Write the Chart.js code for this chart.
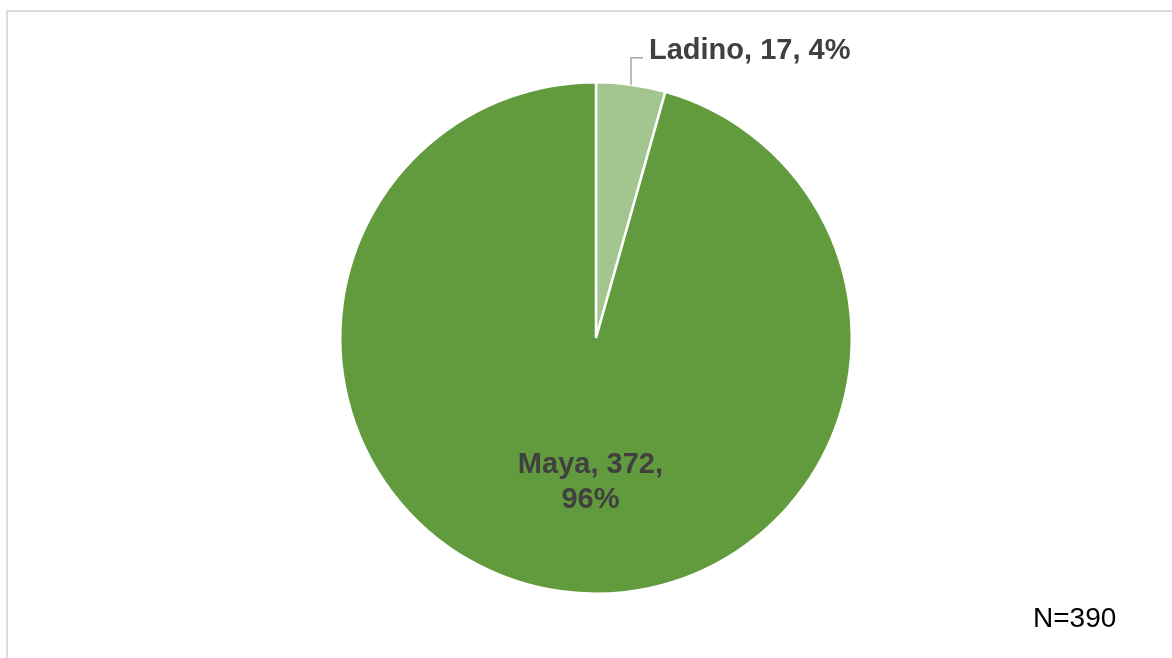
<!DOCTYPE html>
<html>
<head>
<meta charset="utf-8">
<script src="https://cdn.jsdelivr.net/npm/chart.js@4.4.0/dist/chart.umd.min.js"></script>
<style>
  html, body { margin: 0; padding: 0; background: #fff; overflow: hidden; }
  #marco {
    position: absolute; left: 6px; top: 10px; width: 1300px; height: 800px;
    border: 2px solid #dcdcdc; box-sizing: border-box;
  }
  #contenedor { position: absolute; left: 0; top: 0; width: 1172px; height: 658px; }
</style>
</head>
<body>
<div id="marco"></div>
<div id="contenedor"><canvas id="graficoEtnia" width="1172" height="658"></canvas></div>
<script>
// datos de la grafica
const categorias = ['Ladino', 'Maya'];
const cantidades = [17, 372];
const porcentajes = [4, 96];
const totalMuestra = 390;
const colores = ['#a3c690', '#629a3e'];

const colorTexto = '#404040';
const fuenteNegrita = 'bold 29px "Liberation Sans", Arial, sans-serif';

// etiquetas de cada sector y la nota N=
const etiquetasSectores = {
  id: 'etiquetasSectores',
  afterDatasetsDraw(chart) {
    const ctx = chart.ctx;
    const arcos = chart.getDatasetMeta(0).data;
    ctx.save();
    ctx.font = fuenteNegrita;
    ctx.fillStyle = colorTexto;
    ctx.textBaseline = 'alphabetic';

    // Ladino: fuera del pie, con linea guia
    const a0 = arcos[0];
    const medio0 = (a0.startAngle + a0.endAngle) / 2;
    const x0 = a0.x + Math.cos(medio0) * a0.outerRadius;
    const y0 = a0.y + Math.sin(medio0) * a0.outerRadius;
    ctx.strokeStyle = '#a6a6a6';
    ctx.lineWidth = 1.5;
    ctx.beginPath();
    ctx.moveTo(x0, y0);
    ctx.lineTo(x0, y0 - 27);
    ctx.lineTo(x0 + 12, y0 - 27);
    ctx.stroke();
    ctx.textAlign = 'left';
    ctx.fillText(categorias[0] + ', ' + cantidades[0] + ', ' + porcentajes[0] + '%', x0 + 18, y0 - 26);

    // Maya: dentro del sector, dos lineas
    const a1 = arcos[1];
    const medio1 = (a1.startAngle + a1.endAngle) / 2;
    const d = a1.outerRadius * 0.56;
    const x1 = a1.x + Math.cos(medio1) * d + 14;
    const y1 = a1.y + Math.sin(medio1) * d;
    ctx.textAlign = 'center';
    ctx.fillText(categorias[1] + ', ' + cantidades[1] + ',', x1, y1 - 7);
    ctx.fillText(porcentajes[1] + '%', x1, y1 + 28);

    // nota del total
    ctx.font = '28px "Liberation Sans", Arial, sans-serif';
    ctx.fillStyle = '#000';
    ctx.textAlign = 'left';
    ctx.fillText('N=' + totalMuestra, 1033, 627);
    ctx.restore();
  }
};

var ctx = document.getElementById('graficoEtnia').getContext('2d');
var grafico = new Chart(ctx, {
  type: 'pie',
  data: {
    labels: categorias,
    datasets: [{
      data: cantidades,
      backgroundColor: colores,
      borderColor: '#ffffff',
      borderWidth: 2.5
    }]
  },
  options: {
    responsive: false,
    animation: false,
    layout: { padding: { left: 339, right: 319, top: 81, bottom: 63 } },
    plugins: {
      legend: { display: false },
      tooltip: { enabled: false }
    }
  },
  plugins: [etiquetasSectores]
});
</script>
</body>
</html>
